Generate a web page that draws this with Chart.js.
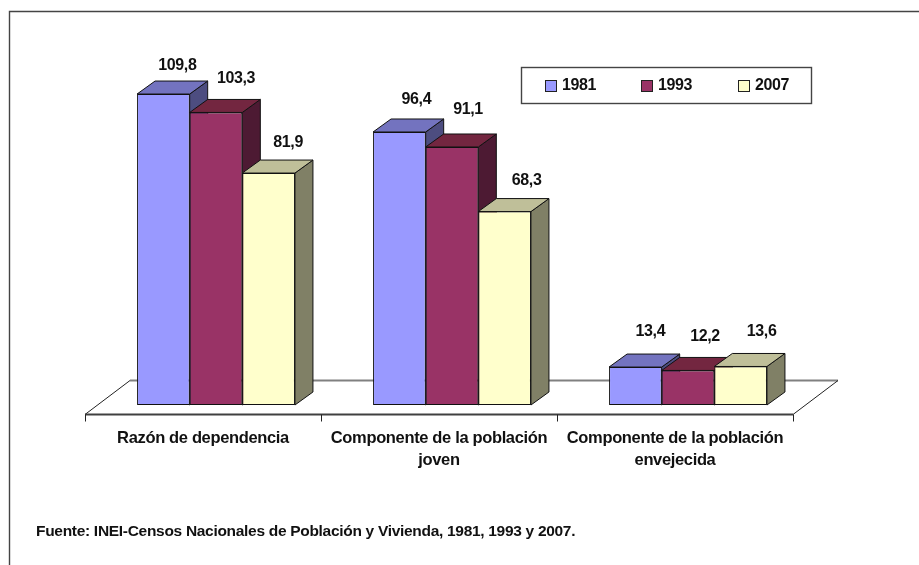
<!DOCTYPE html>
<html><head><meta charset="utf-8">
<style>html,body{margin:0;padding:0;background:#fff;overflow:hidden}canvas{display:block}</style>
<script src="https://cdn.jsdelivr.net/npm/chart.js@4"></script>
</head><body><canvas id="c" width="919" height="565"></canvas>
<script>
const categories = [["Razón de dependencia"],["Componente de la población","joven"],["Componente de la población","envejecida"]];
const years = ["1981","1993","2007"];
const v1981 = [109.8,96.4,13.4];
const v1993 = [103.3,91.1,12.2];
const v2007 = [81.9,68.3,13.6];
const source = "Fuente: INEI-Censos Nacionales de Población y Vivienda, 1981, 1993 y 2007.";
const fronts = ["#9999FF","#993366","#FFFFCC"];
const tops = ["#7373BF","#732640","#BFBF99"];
const sides = ["#4D4D80","#4D1A33","#808066"];
const labelNudge = [[[14,-28],[17,-32],[15,-35]],[[20,-34],[16,-37],[17,-34]],[[19.5,-30],[22,-31],[21,-35]]];
const FONT = '"Liberation Sans"';
const DX=18, DY=13, FDX=45, FDY=34;

function fmt(v){return v.toFixed(1).replace('.',',');}
function line(ctx,pts,col,w){ctx.beginPath();pts.forEach((p,i)=>i?ctx.lineTo(p[0],p[1]):ctx.moveTo(p[0],p[1]));ctx.strokeStyle=col;ctx.lineWidth=w;ctx.stroke();}
function poly(ctx,pts,fill){ctx.beginPath();pts.forEach((p,i)=>i?ctx.lineTo(p[0],p[1]):ctx.moveTo(p[0],p[1]));ctx.closePath();ctx.fillStyle=fill;ctx.fill();ctx.strokeStyle='#111';ctx.lineWidth=1;ctx.stroke();}

const deco = {
  id:'deco',
  beforeDraw(chart){ chart.ctx.letterSpacing='-0.35px'; },
  beforeDatasetsDraw(chart){
    const ctx=chart.ctx, a=chart.chartArea;
    ctx.save();
    line(ctx,[[9.5,565],[9.5,11.5],[919,11.5]],'#444',1.4);
    const l=a.left-13, r=a.right-13, fy=a.bottom+9.5, by=fy-FDY;
    line(ctx,[[l+FDX,by],[r+FDX,by]],'#808080',2);
    line(ctx,[[l,fy],[l+FDX,by]],'#222',1);
    line(ctx,[[r,fy],[r+FDX,by]],'#222',1);
    line(ctx,[[l,fy],[r,fy]],'#404040',2);
    const step=(r-l)/categories.length;
    for(let i=0;i<=categories.length;i++){const x=Math.round(l+step*i)+.5;line(ctx,[[x,fy],[x,fy+7]],'#222',1);}
    for(let c=0;c<categories.length;c++){
      chart.data.datasets.forEach((d,di)=>{
        const b=chart.getDatasetMeta(di).data[c];
        const x0=b.x-b.width/2,x1=b.x+b.width/2,t=b.y,bt=b.base;
        poly(ctx,[[x1,t],[x1+DX,t-DY],[x1+DX,bt-DY],[x1,bt]],sides[di]);
        poly(ctx,[[x0,t],[x0+DX,t-DY],[x1+DX,t-DY],[x1,t]],tops[di]);
      });
    }
    ctx.restore();
  },
  afterDatasetsDraw(chart){
    const ctx=chart.ctx;
    ctx.save();
    ctx.fillStyle='#111';
    ctx.textBaseline='middle';
    ctx.font='bold 16px '+FONT;
    ctx.letterSpacing='-0.4px';
    ctx.textAlign='center';
    chart.data.datasets.forEach((d,di)=>{
      chart.getDatasetMeta(di).data.forEach((b,c)=>{
        const n=labelNudge[di][c];
        ctx.fillText(fmt(d.data[c]),b.x+n[0],b.y+n[1]);
      });
    });
    ctx.strokeStyle='#444';ctx.lineWidth=1.4;
    ctx.fillStyle='#fff';
    ctx.fillRect(521.5,67.5,290,36);ctx.strokeRect(521.5,67.5,290,36);
    const sx=[545.5,641.5,738.5];
    years.forEach((y,i)=>{
      ctx.fillStyle=fronts[i];ctx.fillRect(sx[i],80.5,11,11);
      ctx.strokeStyle='#222';ctx.lineWidth=1;ctx.strokeRect(sx[i],80.5,11,11);
      ctx.fillStyle='#111';ctx.textAlign='left';
      ctx.fillText(y,sx[i]+16.5,85.5);
    });
    ctx.textBaseline='alphabetic';
    ctx.font='bold 15.5px '+FONT;
    ctx.letterSpacing='-0.3px';
    ctx.fillText(source,36,536);
    ctx.restore();
    ctx.letterSpacing='0px';
  }
};

new Chart(document.getElementById('c'),{
  type:'bar',
  data:{labels:categories,datasets:[v1981,v1993,v2007].map((vals,i)=>({
    label:years[i],data:vals,backgroundColor:fronts[i],borderColor:'#111',borderWidth:1,borderSkipped:false,
    categoryPercentage:0.669,barPercentage:1
  }))},
  options:{
    responsive:false,animation:false,
    layout:{padding:{left:98,right:113,top:65.15,bottom:0}},
    plugins:{legend:{display:false},tooltip:{enabled:false},title:{display:false}},
    scales:{
      y:{display:false,min:0,max:120},
      x:{
        grid:{display:false,drawTicks:false},border:{display:false},
        afterFit(s){s.height=160;},
        ticks:{maxRotation:0,minRotation:0,autoSkip:false,labelOffset:-13,padding:22,color:'#111',
          font:{family:FONT,size:16.5,weight:'bold',lineHeight:'22.5px'}}
      }
    }
  },
  plugins:[deco]
});
</script></body></html>
